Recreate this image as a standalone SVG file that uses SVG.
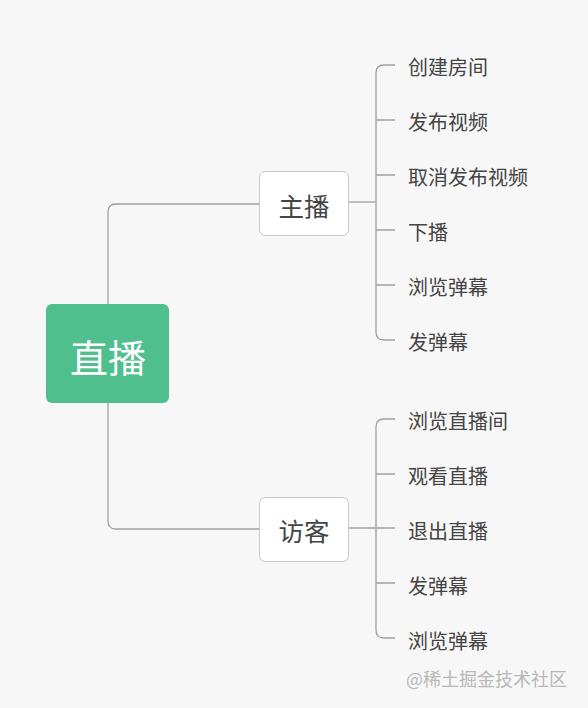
<svg xmlns="http://www.w3.org/2000/svg" width="588" height="708" viewBox="0 0 588 708">
<style>
.bg{fill:#f7f7f7}
.ln{fill:none;stroke:#a0a0a0;stroke-width:1.3}
.box{fill:#ffffff;stroke:#c8c8c8;stroke-width:1}
.t{font-family:"Noto Sans CJK SC","Noto Sans",sans-serif;fill:#444444}
.leaf{font-size:20px;dominant-baseline:central}
.mid{font-size:25.5px;text-anchor:middle;dominant-baseline:central}
</style>
<rect class="bg" x="0" y="0" width="588" height="708"/>
<g id="connectors">
<path class="ln" d="M108,304 V212 Q108,204 116,204 H259"/>
<path class="ln" d="M108,403 V521 Q108,529 116,529 H259"/>
<path class="ln" d="M348,202 H376"/>
<path class="ln" d="M395,65 H384 Q376,65 376,73 V332 Q376,340 384,340 H395"/>
<path class="ln" d="M376,120 H395 M376,175 H395 M376,230 H395 M376,285 H395"/>
<path class="ln" d="M348,528 H395"/>
<path class="ln" d="M395,419 H384 Q376,419 376,427 V630 Q376,638 384,638 H395"/>
<path class="ln" d="M376,474 H395 M376,583 H395"/>
</g>
<g id="root">
<rect x="46" y="304" width="123" height="99" rx="6" fill="#4fc08d"/>
<text class="t" x="108" y="355" font-size="38" text-anchor="middle" dominant-baseline="central" style="fill:#ffffff">直播</text>
</g>
<g id="host">
<rect class="box" x="259.5" y="171.5" width="89" height="64" rx="6"/>
<text class="t mid" x="304" y="204">主播</text>
</g>
<g id="visitor">
<rect class="box" x="259.5" y="497.5" width="89" height="64" rx="6"/>
<text class="t mid" x="304" y="529">访客</text>
</g>
<g id="host-items">
<text class="t leaf" x="408" y="66">创建房间</text>
<text class="t leaf" x="408" y="121">发布视频</text>
<text class="t leaf" x="408" y="176">取消发布视频</text>
<text class="t leaf" x="408" y="231">下播</text>
<text class="t leaf" x="408" y="286">浏览弹幕</text>
<text class="t leaf" x="408" y="341">发弹幕</text>
</g>
<g id="visitor-items">
<text class="t leaf" x="408" y="420">浏览直播间</text>
<text class="t leaf" x="408" y="475">观看直播</text>
<text class="t leaf" x="408" y="530">退出直播</text>
<text class="t leaf" x="408" y="585">发弹幕</text>
<text class="t leaf" x="408" y="640">浏览弹幕</text>
</g>
<text x="406" y="678" font-family="'Noto Sans CJK SC','Noto Sans',sans-serif" font-size="18" fill="#b8b8b8" dominant-baseline="central">@稀土掘金技术社区</text>
</svg>
